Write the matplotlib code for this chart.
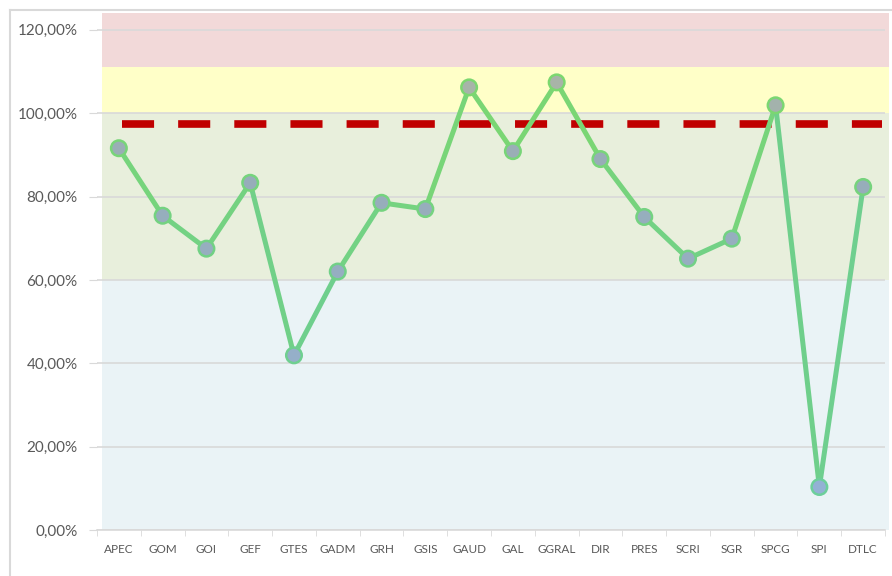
#Line chart of completion rate per unit with coloured performance bands
import numpy as np
import matplotlib.pyplot as plt
from matplotlib.lines import Line2D
from matplotlib.collections import LineCollection
from matplotlib.ticker import FuncFormatter, MultipleLocator
from matplotlib.colors import LinearSegmentedColormap

units = ['APEC', 'GOM', 'GOI', 'GEF', 'GTES', 'GADM', 'GRH', 'GSIS', 'GAUD',
         'GAL', 'GGRAL', 'DIR', 'PRES', 'SCRI', 'SGR', 'SPCG', 'SPI', 'DTLC']
rate = [91.6, 75.4, 67.5, 83.3, 41.9, 62.0, 78.5, 77.0, 106.2,
        90.9, 107.4, 89.0, 75.1, 65.1, 69.9, 101.9, 10.3, 82.3]
target = 97.5
# band limits (low, high) and colours
bands = [(0, 60, '#eaf3f6'), (60, 100, '#e8efdc'), (100, 111, '#ffffc8'), (111, 124, '#f2d9d9')]

plt.rcParams['font.family'] = ['Lato', 'DejaVu Sans']
fig = plt.figure(figsize=(8.92, 5.76), dpi=100)
ax = fig.add_axes([0.1087, 0.08, 0.8835, 0.892])

x = np.arange(len(units))
for lo, hi, col in bands:
    ax.axhspan(lo, hi, xmin=0.007, xmax=1.005, color=col, lw=0, zorder=0, clip_on=False)

ax.yaxis.set_major_locator(MultipleLocator(20))
ax.grid(axis='y', color='#d9d9d9', lw=1.2, zorder=1)
ax.set_axisbelow(True)

ax.axhline(target, xmin=0.032, xmax=0.996, color='#c00000', lw=5.5,
           dashes=(4.2, 3.15), solid_capstyle='butt', dash_capstyle='butt', zorder=2)

# line coloured by value: teal-green low, yellow-green high
line_cmap = LinearSegmentedColormap.from_list('ln', ['#6dcf9e', '#6fcf8c', '#7dd86e'])
pts = np.column_stack([x, rate])
segs = np.stack([pts[:-1], pts[1:]], axis=1)
seg_val = (np.array(rate[:-1]) + np.array(rate[1:])) / 2
lc = LineCollection(segs, cmap=line_cmap, norm=plt.Normalize(0, 110), lw=3.6,
                    capstyle='round', joinstyle='round', zorder=3)
lc.set_array(seg_val)
ax.add_collection(lc)

face_cmap = LinearSegmentedColormap.from_list('pts', [(0, '#93b1d8'), (0.8, '#97adb8'), (1, '#aab5a6')])
norm = plt.Normalize(0, 110)
ax.scatter(x, rate, c=face_cmap(norm(rate)), s=125,
           edgecolors=line_cmap(norm(rate)), linewidths=1.8, zorder=4)

ax.set_xlim(-0.5, len(units) - 0.5)
ax.set_ylim(0, 123.3)
ax.set_xticks(x)
ax.set_xticklabels(units, fontsize=8.5, color='#595959')
ax.set_xticks(np.arange(len(units) + 1) - 0.5, minor=True)
ax.tick_params(axis='x', which='major', length=0, pad=10)
ax.tick_params(axis='x', which='minor', length=4, color='#d9d9d9', direction='out')
ax.yaxis.set_major_formatter(FuncFormatter(lambda v, p: ('%.2f%%' % v).replace('.', ',')))
ax.tick_params(axis='y', length=6, color='#d9d9d9', labelsize=11, labelcolor='#595959', pad=8)

for s in ['top', 'right', 'left']:
    ax.spines[s].set_visible(False)
ax.spines['bottom'].set_color('#d9d9d9')
ax.spines['bottom'].set_linewidth(1.2)

# outer chart frame
fig.add_artist(Line2D([0.011, 0.011], [0, 0.983], color='#d9d9d9', lw=1.5))
fig.add_artist(Line2D([0.011, 1.0], [0.983, 0.983], color='#d9d9d9', lw=1.5))

plt.savefig('out.png', dpi=100)
